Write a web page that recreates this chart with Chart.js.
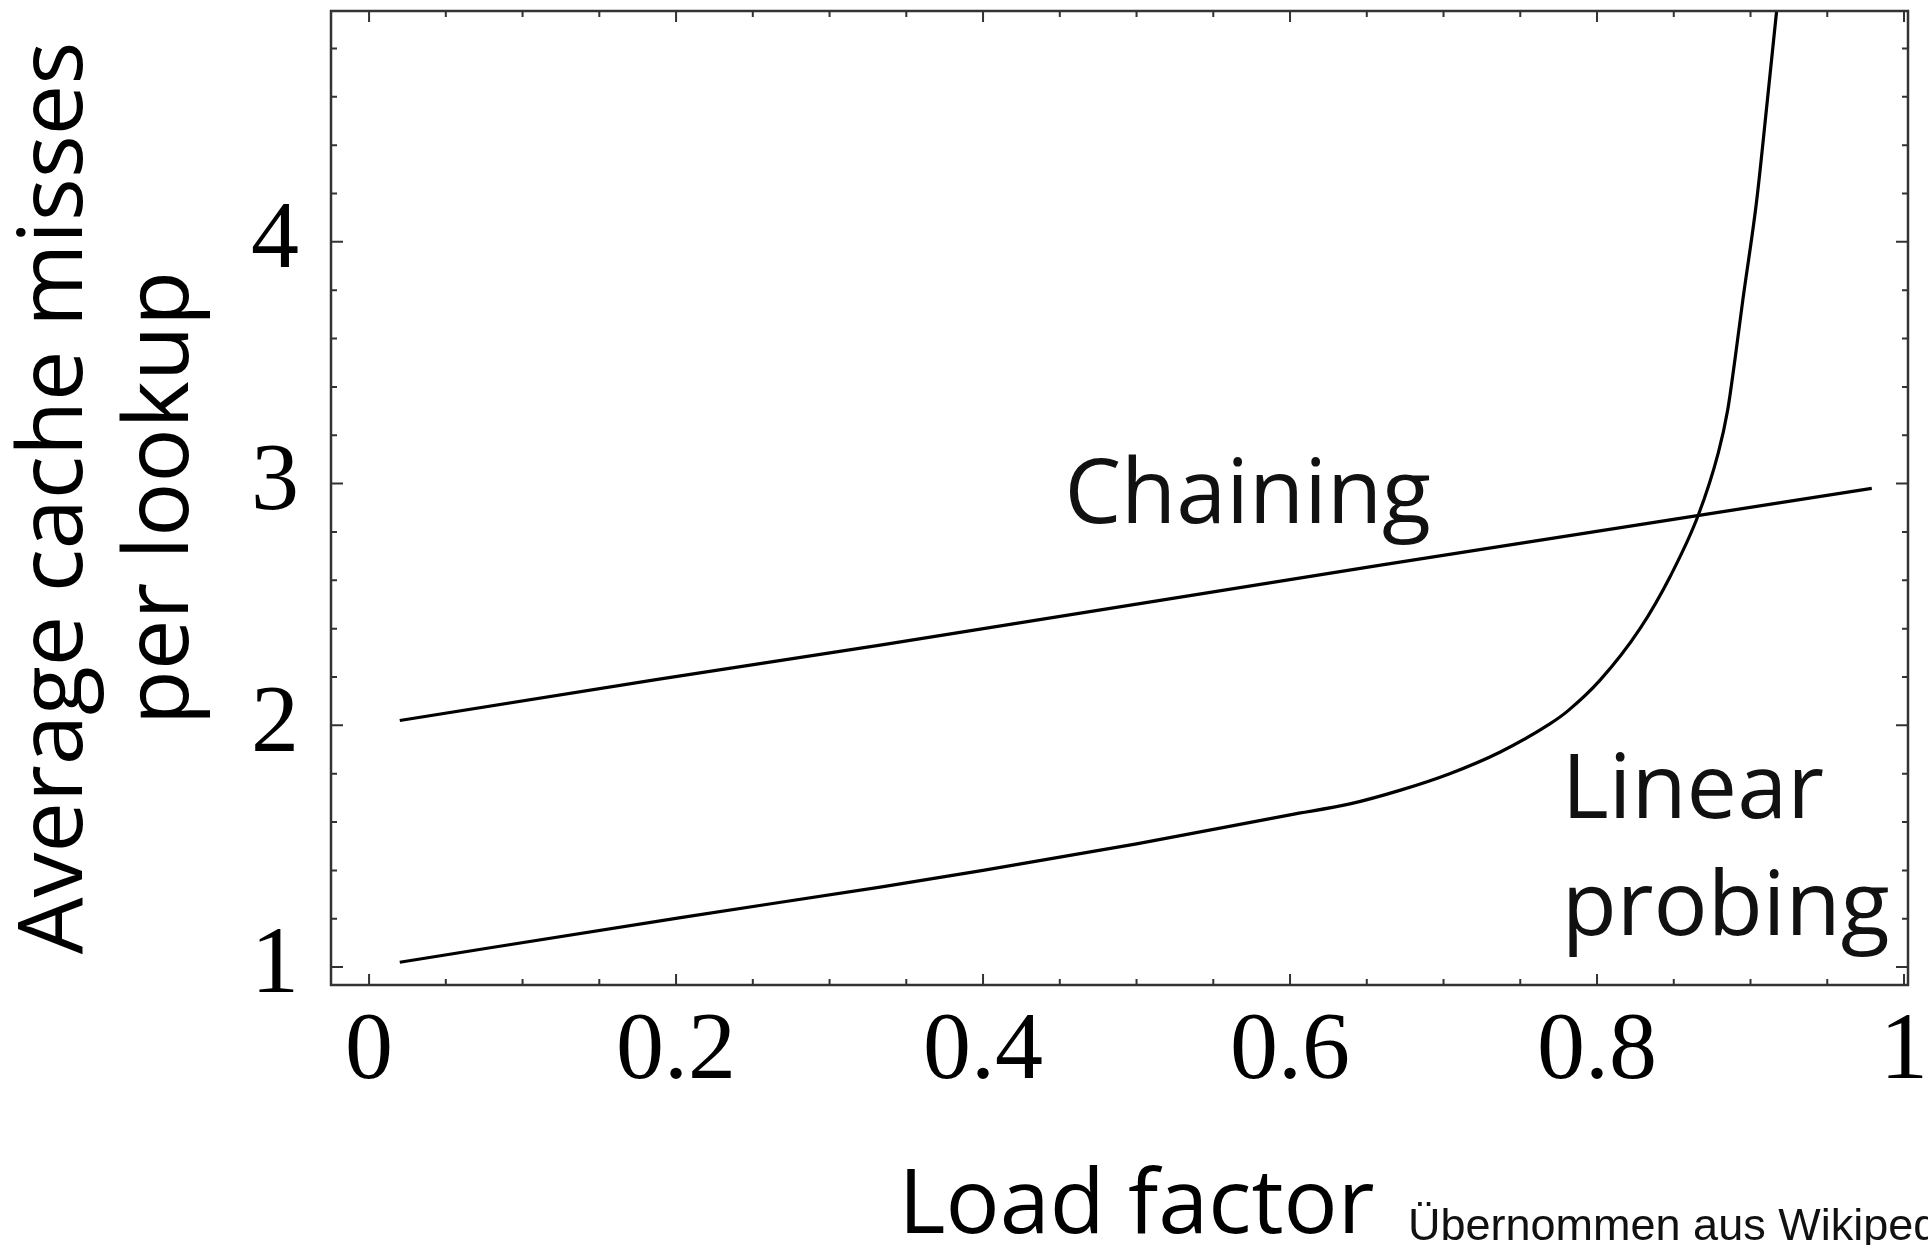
<!DOCTYPE html>
<html>
<head>
<meta charset="utf-8">
<script src="https://cdn.jsdelivr.net/npm/chart.js@4.4.0/dist/chart.umd.min.js"></script>
<style>
  html, body { margin: 0; padding: 0; background: #fff; }
  #wrap { width: 1928px; height: 1245px; }
</style>
</head>
<body>
<div id="wrap"><canvas id="chartLoadFactor" width="1928" height="1245"></canvas></div>
<script>
const xTickValues = [0, 0.2, 0.4, 0.6, 0.8, 1];
const xTickLabels = ['0', '0.2', '0.4', '0.6', '0.8', '1'];
const yTickValues = [1, 2, 3, 4];
const yTickLabels = ['1', '2', '3', '4'];

// chaining: almost a straight line
const chainingLoad = [0.02, 0.188, 0.333, 0.659, 0.979];
const chainingMisses = [2.02, 2.19, 2.332, 2.663, 2.98];

// linear probing
const probingLoad = [0.02, 0.203, 0.333, 0.4, 0.5, 0.6, 0.639, 0.672, 0.704, 0.737, 0.769, 0.781, 0.802, 0.828, 0.848, 0.866, 0.879, 0.885, 0.89, 0.895, 0.904, 0.911, 0.917];
const probingMisses = [1.02, 1.205, 1.331, 1.40, 1.51, 1.63, 1.675, 1.732, 1.80, 1.89, 2.005, 2.06, 2.187, 2.40, 2.62, 2.87, 3.127, 3.30, 3.52, 3.76, 4.17, 4.587, 4.955];

function toPoints(xs, ys) {
    return xs.map(function(v, i) { return {x: v, y: ys[i]}; });
}

const textFont = "'Open Sans'";
const numberFont = "'Liberation Serif'";

// Mathematica style frame with inward ticks on all four sides
const frameTicks = {
    id: 'frameTicks',
    afterDatasetsDraw(chart) {
        const ctx = chart.ctx;
        const a = chart.chartArea;
        const x = chart.scales.x;
        const y = chart.scales.y;
        ctx.save();
        ctx.strokeStyle = '#333';
        ctx.lineWidth = 2.5;
        ctx.strokeRect(a.left, a.top, a.right - a.left, a.bottom - a.top);
        ctx.lineWidth = 2;
        ctx.beginPath();
        for (let i = 0; i <= 20; i++) {
            const px = x.getPixelForValue(i * 0.05);
            const len = i % 4 === 0 ? 11 : 6;
            ctx.moveTo(px, a.bottom); ctx.lineTo(px, a.bottom - len);
            ctx.moveTo(px, a.top); ctx.lineTo(px, a.top + len);
        }
        for (let i = 0; i <= 19; i++) {
            const py = y.getPixelForValue(1 + i * 0.2);
            const len = i % 5 === 0 ? 12 : 6;
            ctx.moveTo(a.left, py); ctx.lineTo(a.left + len, py);
            ctx.moveTo(a.right, py); ctx.lineTo(a.right - len, py);
        }
        ctx.stroke();
        ctx.restore();
    }
};

const curveLabels = {
    id: 'curveLabels',
    afterDraw(chart) {
        const ctx = chart.ctx;
        const a = chart.chartArea;
        const x = chart.scales.x;
        const y = chart.scales.y;
        ctx.save();
        ctx.fillStyle = '#111';
        ctx.textAlign = 'left';
        ctx.textBaseline = 'alphabetic';
        ctx.font = '90px ' + textFont;
        ctx.fillText('Chaining', x.getPixelForValue(0.453), y.getPixelForValue(2.837));
        ctx.fillText('Linear', x.getPixelForValue(0.777), y.getPixelForValue(1.616));
        ctx.fillText('probing', x.getPixelForValue(0.777), y.getPixelForValue(1.132));
        // x axis title sits a little right of the plot centre
        ctx.fillStyle = '#000';
        ctx.textAlign = 'center';
        ctx.fillText('Load factor', (a.left + a.right) / 2 + 17, 1233);
        ctx.textAlign = 'left';
        ctx.fillStyle = '#111';
        ctx.font = "45px 'Liberation Sans'";
        ctx.fillText('Übernommen aus Wikipedia', 1408, 1240);
        ctx.restore();
    }
};

new Chart(document.getElementById('chartLoadFactor'), {
    type: 'scatter',
    data: {
        datasets: [
            {
                label: 'Chaining',
                data: toPoints(chainingLoad, chainingMisses),
                showLine: true,
                borderColor: '#000',
                borderWidth: 3.2,
                pointRadius: 0,
                tension: 0
            },
            {
                label: 'Linear probing',
                data: toPoints(probingLoad, probingMisses),
                showLine: true,
                borderColor: '#000',
                borderWidth: 3.2,
                pointRadius: 0,
                cubicInterpolationMode: 'monotone'
            }
        ]
    },
    options: {
        responsive: false,
        devicePixelRatio: 1,
        animation: false,
        layout: {
            padding: {top: 11, right: 20, left: 0, bottom: 0}
        },
        plugins: {
            legend: {display: false},
            tooltip: {enabled: false}
        },
        scales: {
            x: {
                type: 'linear',
                min: -0.0248,
                max: 1.0026,
                grid: {display: false},
                border: {display: false},
                afterBuildTicks: function(scale) {
                    scale.ticks = xTickValues.map(function(v) { return {value: v}; });
                },
                afterFit: function(scale) {
                    scale.height = 260;
                    scale.paddingLeft = 0;
                    scale.paddingRight = 0;
                },
                ticks: {
                    color: '#000',
                    padding: 12,
                    maxRotation: 0,
                    font: {family: numberFont, size: 96, lineHeight: 1},
                    callback: function(value, index) { return xTickLabels[index]; }
                },
                title: {display: false}
            },
            y: {
                type: 'linear',
                min: 0.926,
                max: 4.955,
                grid: {display: false},
                border: {display: false},
                afterBuildTicks: function(scale) {
                    scale.ticks = yTickValues.map(function(v) { return {value: v}; });
                },
                afterFit: function(scale) {
                    scale.width = 331;
                    scale.paddingTop = 0;
                    scale.paddingBottom = 0;
                },
                ticks: {
                    color: '#000',
                    padding: 24,
                    font: {family: numberFont, size: 96, lineHeight: 1},
                    callback: function(value, index) { return yTickLabels[index]; }
                },
                title: {
                    display: true,
                    text: ['Average cache misses', 'per lookup'],
                    color: '#000',
                    padding: {top: 4, bottom: 0},
                    font: {family: textFont, size: 90, lineHeight: 1.17}
                }
            }
        }
    },
    plugins: [frameTicks, curveLabels]
});
</script>
</body>
</html>
